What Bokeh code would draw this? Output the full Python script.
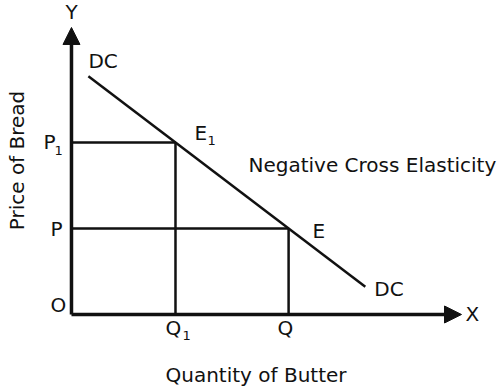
from bokeh.plotting import figure
from bokeh.models import Range1d, Arrow, NormalHead
from bokeh.core.properties import value
from bokeh.embed import file_html
from bokeh.resources import INLINE
import math

# Quantities of butter and prices of bread at the two equilibria
q1, q = 4.0, 8.35
p1, p = 8.0, 4.0

# Cross-demand curve DC (end points)
dc_x = [0.65, 11.3]
dc_y = [11.08, 1.29]

# Axis extents
x_max, y_max = 15.0, 13.35

FONT = value("DejaVu Sans")
INK = "#111111"

p_fig = figure(width=503, height=390, x_range=Range1d(-2.73, 16.615),
               y_range=Range1d(-3.535, 14.605), x_axis_type=None, y_axis_type=None,
               toolbar_location=None, output_backend="svg", min_border=0,
               outline_line_color=None, background_fill_color="white")
p_fig.grid.visible = False

# Axes with arrow heads
for xe, ye in [(x_max, 0), (0, y_max)]:
    p_fig.add_layout(Arrow(x_start=0, y_start=0, x_end=xe, y_end=ye,
                           line_width=3.5, line_color=INK,
                           end=NormalHead(size=17, fill_color=INK, line_color=INK, line_width=1)))

# Guide lines from the axes to the equilibrium points
p_fig.line([0, q1, q1], [p1, p1, 0], line_width=2.5, line_color=INK)
p_fig.line([0, q, q], [p, p, 0], line_width=2.5, line_color=INK)

# Demand curve
p_fig.line(dc_x, dc_y, line_width=2.5, line_color=INK)


def label(x, y, txt, dx=0, dy=0, size="20px", align="left", angle=0.0):
    p_fig.text(x=[x], y=[y], text=[txt], x_offset=dx, y_offset=dy,
               text_font=FONT, text_font_size=size, text_color=INK,
               text_align=align, text_baseline="middle", angle=angle)


label(0, y_max, "Y", dy=-15, align="center")
label(x_max, 0, "X", dx=4)
label(dc_x[0], dc_y[0], "DC", dx=0, dy=-15)
label(dc_x[1], dc_y[1], "DC", dx=9, dy=2)
label(0, p1, "P", dx=-28, dy=-1)
label(0, p1, "1", dx=-17, dy=8, size="13px")
label(0, p, "P", dx=-21)
label(0, 0, "O", dx=-21, dy=-9)
label(q1, 0, "Q", dx=-10, dy=14)
label(q1, 0, "1", dx=7, dy=21, size="13px")
label(q, 0, "Q", dx=-11, dy=14)
label(q1, p1, "E", dx=19, dy=-10)
label(q1, p1, "1", dx=32, dy=-2, size="13px")
label(q, p, "E", dx=24, dy=2)
label(q1, p1, "Negative Cross Elasticity", dx=73, dy=22)
label(q1, 0, "Quantity of Butter", dx=-10, dy=61)
label(0, 0, "Price of Bread", dx=-54, dy=-154, align="center", angle=math.pi / 2)

open("out.html", "w").write(file_html(p_fig, INLINE))
